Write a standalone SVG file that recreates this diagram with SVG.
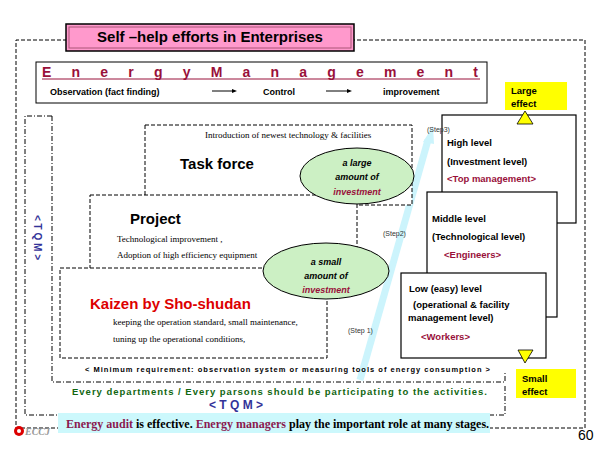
<svg xmlns="http://www.w3.org/2000/svg" width="600" height="450" viewBox="0 0 600 450">
<style>
text{font-family:"Liberation Sans",Arial,sans-serif}
.dash{fill:#fff;stroke:#000;stroke-width:1;stroke-dasharray:4 2}
.dd{fill:none;stroke:#000;stroke-width:1;stroke-dasharray:5 2 1 2}
.b{font-weight:bold}
.ser{font-family:"Liberation Serif","Times New Roman",serif}
.lvl{fill:#fff;stroke:#000;stroke-width:1.2}
.ell{fill:#ccf0c4;stroke:#000;stroke-width:1}
.ei{font-size:9px;font-weight:bold;font-style:italic;text-anchor:middle}
.dr{fill:#99103a}
.step{font-size:7px;fill:#333}
.yel{fill:#ffff00}
</style>
<rect x="0" y="0" width="600" height="450" fill="#fff"/>
<path d="M67,40 H16 V428 H585 V40 H353" class="dash" fill="none"/>
<g id="title">
<rect x="66" y="24" width="288" height="27" fill="#ff99cc" stroke="#000" stroke-width="1.5"/>
<rect x="69" y="27" width="282" height="21" fill="none" stroke="#aa5577" stroke-width="1"/>
<text x="210" y="42" class="b" font-size="15" text-anchor="middle">Self –help efforts in Enterprises</text>
</g>
<g id="energy-management">
<rect x="36" y="62" width="451" height="41" fill="#fff" stroke="#000" stroke-width="1"/>
<text x="42" y="77" class="b dr" font-size="14" textLength="436" lengthAdjust="spacing">E n e r g y   M a n a g e m e n t</text>
<line x1="42" y1="79" x2="480" y2="79" stroke="#99103a" stroke-width="1"/>
<text x="50" y="95" class="b" font-size="9">Observation (fact finding)</text>
<text x="263" y="95" class="b" font-size="9">Control</text>
<text x="383" y="95" class="b" font-size="9">improvement</text>
<path d="M212,91 H233 M326,91 H348" stroke="#000" stroke-width="1"/>
<path d="M237,91 l-5,-2 v4z M352,91 l-5,-2 v4z" fill="#000"/>
</g>
<g id="tqm-frame">
<path d="M52,116 H25 V415 H505 V385" class="dd"/>
<path d="M52,116 V382 H505 V372" class="dd"/>
<text transform="translate(34,215) rotate(90)" class="b" font-size="10" fill="#333399">&lt; T Q M &gt;</text>
</g>
<g id="connectors">
<path d="M360,380 L428,140" stroke="#ccf4fc" stroke-width="7" fill="none"/>
<path d="M433,126 L423,142 L434,144z" fill="#ccf4fc"/>
</g>
<g id="task-force">
<rect x="145" y="125" width="267" height="80" class="dash"/>
<text x="205" y="138" class="ser" font-size="9">Introduction of newest technology &amp; facilities</text>
<text x="180" y="169" class="b" font-size="15">Task force</text>
</g>
<g id="project">
<rect x="90" y="195" width="267" height="100" class="dash"/>
<text x="130" y="224" class="b" font-size="15">Project</text>
<text x="117" y="242" class="ser" font-size="9">Technological improvement ,</text>
<text x="117" y="258" class="ser" font-size="9">Adoption of high efficiency  equipment</text>
</g>
<g id="kaizen">
<rect x="60" y="268" width="267" height="90" class="dash"/>
<text x="90" y="309" class="b" font-size="15" fill="#dd0000">Kaizen by Sho-shudan</text>
<text x="113" y="325" class="ser" font-size="9">keeping the operation standard,  small maintenance,</text>
<text x="113" y="342" class="ser" font-size="9">tuning up the operational  conditions,</text>
</g>
<g id="large-investment">
<ellipse cx="357" cy="176" rx="57" ry="28" class="ell"/>
<text x="357" y="166" class="ei">a large</text>
<text x="357" y="180" class="ei">amount of</text>
<text x="357" y="195" class="ei dr">investment</text>
</g>
<g id="small-investment">
<ellipse cx="326" cy="271" rx="63" ry="28" class="ell"/>
<text x="326" y="265" class="ei">a small</text>
<text x="326" y="279" class="ei">amount of</text>
<text x="326" y="293" class="ei dr">investment</text>
</g>
<g id="high-level">
<rect x="442" y="115" width="134" height="108" class="lvl"/>
<text x="447" y="146" class="b" font-size="9.5">High level</text>
<text x="447" y="165" class="b" font-size="9.5">(Investment level)</text>
<text x="447" y="182" class="b dr" font-size="9.5">&lt;Top management&gt;</text>
</g>
<g id="middle-level">
<rect x="427" y="192" width="130" height="125" class="lvl"/>
<text x="432" y="222" class="b" font-size="9.5">Middle level</text>
<text x="432" y="240" class="b" font-size="9.5">(Technological level)</text>
<text x="444" y="258" class="b dr" font-size="9.5">&lt;Engineers&gt;</text>
</g>
<g id="low-level">
<rect x="401" y="273" width="145" height="85" class="lvl"/>
<text x="409" y="292" class="b" font-size="9.5">Low (easy) level</text>
<text x="413" y="308" class="b" font-size="9.5">(operational  &amp;  facility</text>
<text x="408" y="321" class="b" font-size="9.5">management level)</text>
<text x="421" y="340" class="b dr" font-size="9.5">&lt;Workers&gt;</text>
</g>
<text x="427" y="132" class="step">(Step3)</text>
<text x="383" y="236" class="step">(Step2)</text>
<text x="348" y="333" class="step">(Step 1)</text>
<g id="large-effect">
<rect x="505" y="82" width="62" height="28" class="yel"/>
<text x="511" y="94" class="b" font-size="9.5">Large</text>
<text x="511" y="107" class="b" font-size="9.5">effect</text>
<path d="M525,111 L517,124 H533z" fill="#ffff00" stroke="#000" stroke-width="0.8"/>
</g>
<g id="small-effect">
<path d="M518,350 H533 L525,363z" fill="#ffff00" stroke="#000" stroke-width="0.8"/>
<rect x="516" y="369" width="60" height="29" class="yel"/>
<text x="522" y="382" class="b" font-size="9.5">Small</text>
<text x="522" y="395" class="b" font-size="9.5">effect</text>
</g>
<text x="85" y="372" class="b" font-size="7.5" textLength="405" lengthAdjust="spacing">&lt; Minimum requirement:  observation system or measuring tools of energy consumption  &gt;</text>
<text x="72" y="395" class="b" font-size="9.5" fill="#116611" textLength="415" lengthAdjust="spacing">Every departments / Every parsons should be participating to the activities.</text>
<text x="236" y="409" class="b" font-size="12" fill="#333399" text-anchor="middle">&lt; T Q M &gt;</text>
<g id="audit">
<rect x="58" y="413" width="432" height="20" fill="#ccf8fc"/>
<text x="66" y="428" class="ser b" font-size="12"><tspan fill="#8a1a50">Energy audit</tspan> is effective.  <tspan fill="#8a1a50">Energy managers</tspan> play the important role at many stages.</text>
</g>
<g id="logo">
<circle cx="19" cy="431" r="5" fill="#dd0000"/>
<circle cx="19" cy="431" r="2" fill="#fff"/>
<text x="25" y="435" class="ser b" font-size="10" font-style="italic" fill="#999">ECCJ</text>
</g>
<text x="578" y="440" font-size="14">60</text>
</svg>
